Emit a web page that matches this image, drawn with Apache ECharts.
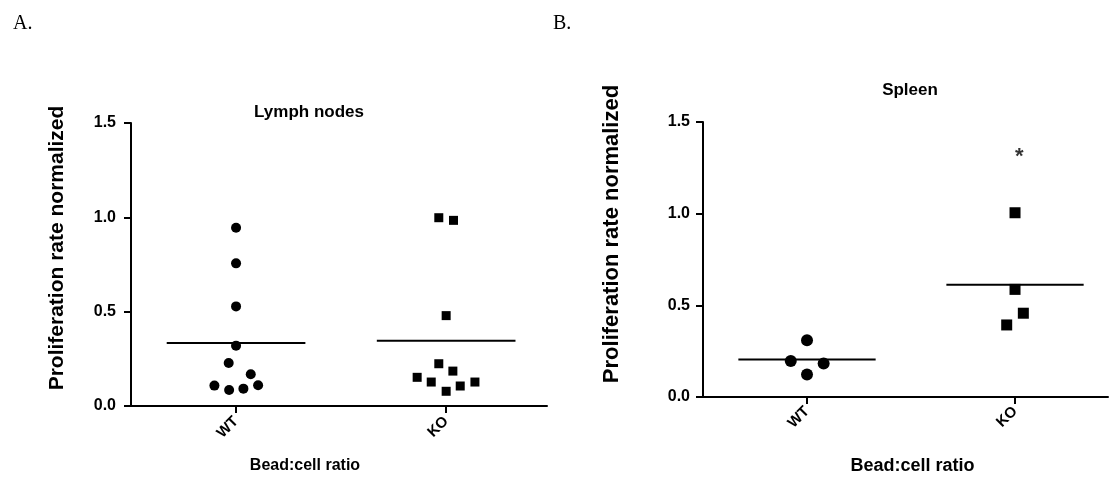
<!DOCTYPE html>
<html>
<head>
<meta charset="utf-8">
<script src="https://cdn.jsdelivr.net/npm/echarts@6/dist/echarts.min.js"></script>
<style>
html,body{margin:0;padding:0;background:#fff;}
#c{width:1111px;height:480px;}
</style>
</head>
<body>
<div id="c"></div>
<script>
// ---- data ----
const categories = ['WT', 'KO'];
const yTicks = [0, 0.5, 1.0, 1.5];

const lymphWT = [0.945, 0.756, 0.528, 0.320, 0.228, 0.168, 0.108, 0.085, 0.092, 0.110];
const lymphWTJitter = [0, 0, 0, 0, -0.035, 0.07, -0.103, -0.033, 0.035, 0.105];
const lymphKO = [0.998, 0.984, 0.479, 0.224, 0.185, 0.152, 0.127, 0.078, 0.106, 0.127];
const lymphKOJitter = [-0.035, 0.035, 0, -0.035, 0.032, -0.138, -0.071, 0, 0.067, 0.137];
const lymphMeans = [0.334, 0.346];

const spleenWT = [0.310, 0.196, 0.183, 0.123];
const spleenWTJitter = [0, -0.078, 0.08, 0];
const spleenKO = [1.005, 0.587, 0.457, 0.393];
const spleenKOJitter = [0, 0, 0.04, -0.04];
const spleenMeans = [0.205, 0.612];

const spleenSignificance = {category: 1, offset: 0.02, value: 1.31, text: '*'};

const panelTitles = ['Lymph nodes', 'Spleen'];
const yName = 'Proliferation rate normalized';
const xName = 'Bead:cell ratio';

// ---- build ----
const BLACK = '#000';
const FONT = 'Liberation Sans, Arial, sans-serif';

function pts(vals, jit, cat) {
  return vals.map((v, i) => [cat + jit[i], v]);
}
function meanLine(m, cat) {
  return [[cat - 0.33, m], [cat + 0.33, m]];
}

function xAxisCfg(gi, max, nameSize, nameGap, namePad, labelMargin) {
  return {
    type: 'value', gridIndex: gi, min: -0.5, max: max,
    splitLine: {show: false},
    axisLine: {show: true, onZero: false, lineStyle: {color: BLACK, width: 2}},
    axisTick: {show: true, customValues: [0, 1], length: 7, lineStyle: {color: BLACK, width: 2}},
    axisLabel: {
      customValues: [0, 1], formatter: v => categories[Math.round(v)],
      rotate: 45, margin: labelMargin, color: BLACK, fontWeight: 'bold', fontSize: 15, fontFamily: FONT
    },
    name: xName, nameLocation: 'middle', nameGap: nameGap,
    nameTextStyle: {color: BLACK, fontWeight: 'bold', fontSize: nameSize, fontFamily: FONT, padding: namePad}
  };
}
function yAxisCfg(gi, margin) {
  return {
    type: 'value', gridIndex: gi, min: yTicks[0], max: yTicks[yTicks.length - 1], interval: 0.5,
    splitLine: {show: false},
    axisLine: {show: true, onZero: false, lineStyle: {color: BLACK, width: 2}},
    axisTick: {show: true, length: 7, lineStyle: {color: BLACK, width: 2}},
    axisLabel: {
      formatter: v => v.toFixed(1), margin: margin, color: BLACK,
      fontWeight: 'bold', fontSize: 16, fontFamily: FONT
    }
  };
}

function scatter(gi, data, symbol, size) {
  return {
    type: 'scatter', xAxisIndex: gi, yAxisIndex: gi, data: data,
    symbol: symbol, symbolSize: size, itemStyle: {color: BLACK, opacity: 1},
    silent: true, z: 3
  };
}
function line(gi, data) {
  return {
    type: 'line', xAxisIndex: gi, yAxisIndex: gi, data: data, symbol: 'none',
    lineStyle: {color: BLACK, width: 2}, silent: true, z: 4
  };
}

const option = {
  animation: false,
  backgroundColor: '#fff',
  title: [
    {text: 'A.', left: 8, top: 9, textStyle: {fontFamily: 'Liberation Serif, serif', fontWeight: 'normal', fontSize: 20, color: BLACK}},
    {text: 'B.', left: 548, top: 9, textStyle: {fontFamily: 'Liberation Serif, serif', fontWeight: 'normal', fontSize: 20, color: BLACK}},
    {text: panelTitles[0], left: 304, top: 99, textAlign: 'center', textStyle: {fontFamily: FONT, fontWeight: 'bold', fontSize: 17, color: BLACK}},
    {text: panelTitles[1], left: 905, top: 77, textAlign: 'center', textStyle: {fontFamily: FONT, fontWeight: 'bold', fontSize: 17, color: BLACK}}
  ],
  grid: [
    {left: 131, top: 123, width: 416, height: 283},
    {left: 703, top: 122, width: 405, height: 276}
  ],
  xAxis: [
    xAxisCfg(0, 1.48, 16, 52, [0, 68, 0, 0], 13),
    xAxisCfg(1, 1.447, 18, 60, [0, 0, 0, 14], 12)
  ],
  yAxis: [yAxisCfg(0, 15), yAxisCfg(1, 13)],
  graphic: [
    {type: 'text', x: 57, y: 248, rotation: Math.PI / 2,
     style: {text: yName, fill: BLACK, font: 'bold 21px ' + FONT, textAlign: 'center', textVerticalAlign: 'middle'}},
    {type: 'text', x: 612, y: 234, rotation: Math.PI / 2,
     style: {text: yName, fill: BLACK, font: 'bold 22px ' + FONT, textAlign: 'center', textVerticalAlign: 'middle'}}
  ],
  series: [
    scatter(0, pts(lymphWT, lymphWTJitter, 0), 'circle', 10),
    scatter(0, pts(lymphKO, lymphKOJitter, 1), 'rect', 9),
    line(0, meanLine(lymphMeans[0], 0)),
    line(0, meanLine(lymphMeans[1], 1)),
    scatter(1, pts(spleenWT, spleenWTJitter, 0), 'circle', 12),
    scatter(1, pts(spleenKO, spleenKOJitter, 1), 'rect', 11),
    line(1, meanLine(spleenMeans[0], 0)),
    line(1, meanLine(spleenMeans[1], 1)),
    {
      type: 'scatter', xAxisIndex: 1, yAxisIndex: 1, silent: true,
      data: [[spleenSignificance.category + spleenSignificance.offset, spleenSignificance.value]],
      symbolSize: 1, itemStyle: {color: 'rgba(0,0,0,0)'},
      label: {show: true, position: 'inside', formatter: spleenSignificance.text,
              color: BLACK, fontSize: 22, fontWeight: 'bold', fontFamily: FONT}
    }
  ]
};

const chart = echarts.init(document.getElementById('c'), null, {renderer: 'canvas'});
chart.setOption(option);
</script>
</body>
</html>
